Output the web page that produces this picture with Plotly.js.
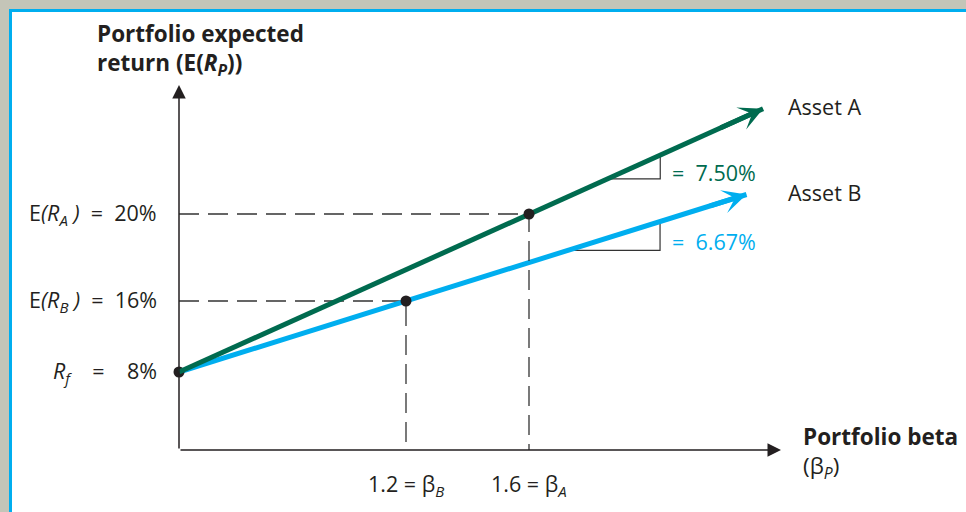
<!DOCTYPE html>
<html><head><meta charset="utf-8">
<script src="https://cdn.plot.ly/plotly-3.0.1.min.js"></script>
<style>html,body{margin:0;padding:0;background:#c4c5b8;}#chart{width:966px;height:512px;}</style>
</head><body><div id="chart"></div>
<script>
// ---- Data ----
const assets = ['Asset A', 'Asset B'];
const assetBetas = [1.6, 1.2];          // beta_A, beta_B
const assetReturns = [20, 16];          // E(R_A), E(R_B) in %
const riskFree = [8];                   // R_f in %
const arrowEndBetas = [2.67, 3.0];      // where each line's arrow ends
const arrowEndReturns = [28, 28];
const slopeLabels = ['=\u00a0\u00a07.50%', '=\u00a0\u00a06.67%'];
const slopeRunA = [1.955, 2.2];         // slope-triangle run (beta) for A
const slopeRunB = [2.057, 2.543];       // slope-triangle run (beta) for B
const yTickLabels = ['E<i>(R</i><sub><i>A</i></sub>\u00a0<i>)</i>\u00a0\u00a0=\u00a0\u00a020%',
                     'E<i>(R</i><sub><i>B</i></sub>\u00a0<i>)</i>\u00a0\u00a0=\u00a0\u00a016%',
                     '<i>R</i><sub><i>f</i></sub>\u00a0\u00a0\u00a0\u00a0=\u00a0\u00a0\u00a0\u00a08%'];
const xTickLabels = ['1.2\u00a0=\u00a0β<sub><i>B</i></sub>', '1.6\u00a0=\u00a0β<sub><i>A</i></sub>'];

// ---- Styling ----
const GREEN = '#006b4f', BLUE = '#00aeef', INK = '#231f20';
const W = 966, H = 512;
const FONT = 'Open Sans, Noto Sans, sans-serif';
const FS = 21.5, FSB = 22.5;
// schematic axes: each asset uses its own (overlaid) linear scale, as in the original figure
const rngB = {x: [-0.9462, 4.1603], y: [-7.775, 49.915]};
const rngA = {x: [-0.8183, 3.5977], y: [-2.633, 36.253]};
const basePx = 450;   // pixel row of the horizontal axis
const baseVal = r => r.y[0] + (r.y[1] - r.y[0]) * (H - basePx) / H;
const px = v => v / W, py = v => (H - v) / H;

const slopeA = (assetReturns[0] - riskFree[0]) / assetBetas[0];
const slopeB = (assetReturns[1] - riskFree[0]) / assetBetas[1];

const dashLine = {color: '#333', width: 1.3, dash: '20px,9px'};
const thin = {color: '#333', width: 1.2};

const traces = [
  // dashed guides
  {x: [0, assetBetas[0], assetBetas[0]], y: [assetReturns[0], assetReturns[0], baseVal(rngA)], xaxis: 'x2', yaxis: 'y2', mode: 'lines', line: dashLine},
  {x: [0, assetBetas[1], assetBetas[1]], y: [assetReturns[1], assetReturns[1], baseVal(rngB)], mode: 'lines', line: dashLine},
  // slope triangles
  {x: [slopeRunA[0], slopeRunA[1], slopeRunA[1]], y: [riskFree[0] + slopeA * slopeRunA[0], riskFree[0] + slopeA * slopeRunA[0], riskFree[0] + slopeA * slopeRunA[1]], xaxis: 'x2', yaxis: 'y2', mode: 'lines', line: thin},
  {x: [slopeRunB[0], slopeRunB[1], slopeRunB[1]], y: [riskFree[0] + slopeB * slopeRunB[0], riskFree[0] + slopeB * slopeRunB[0], riskFree[0] + slopeB * slopeRunB[1]], mode: 'lines', line: thin},
  // SML lines
  {x: [0, assetBetas[0], arrowEndBetas[0]], y: [riskFree[0], assetReturns[0], arrowEndReturns[0]], xaxis: 'x2', yaxis: 'y2', mode: 'lines', line: {color: GREEN, width: 5}, name: assets[0]},
  {x: [0, assetBetas[1], arrowEndBetas[1]], y: [riskFree[0], assetReturns[1], arrowEndReturns[1]], mode: 'lines', line: {color: BLUE, width: 5}, name: assets[1]},
  // points
  {x: [0, assetBetas[1]], y: [riskFree[0], assetReturns[1]], mode: 'markers', marker: {color: INK, size: 11}},
  {x: [assetBetas[0]], y: [assetReturns[0]], xaxis: 'x2', yaxis: 'y2', mode: 'markers', marker: {color: INK, size: 11}}
];

const txt = (text, x, y, opts) => Object.assign({text, x, y, xref: 'paper', yref: 'paper', showarrow: false,
  xanchor: 'left', yanchor: 'middle', align: 'left', font: {family: FONT, size: FS, color: INK}}, opts || {});

const ann = [
  // axes with arrows
  {x: px(781), y: py(basePx), xref: 'paper', yref: 'paper', ax: -602, ay: 0, axref: 'pixel', ayref: 'pixel', text: '', showarrow: true, arrowhead: 2, arrowsize: 1.8, arrowwidth: 1.5, arrowcolor: INK},
  {x: px(179), y: py(85), xref: 'paper', yref: 'paper', ax: 0, ay: 365, axref: 'pixel', ayref: 'pixel', text: '', showarrow: true, arrowhead: 2, arrowsize: 1.8, arrowwidth: 1.5, arrowcolor: INK},
  // line arrowheads
  {x: arrowEndBetas[0], y: arrowEndReturns[0], xref: 'x2', yref: 'y2', ax: arrowEndBetas[0] - 0.2, ay: arrowEndReturns[0] - 0.2 * slopeA, axref: 'x2', ayref: 'y2', text: '', showarrow: true, arrowhead: 3, arrowsize: 0.8, arrowwidth: 5, arrowcolor: GREEN},
  {x: arrowEndBetas[1], y: arrowEndReturns[1], xref: 'x', yref: 'y', ax: arrowEndBetas[1] - 0.2, ay: arrowEndReturns[1] - 0.2 * slopeB, axref: 'x', ayref: 'y', text: '', showarrow: true, arrowhead: 3, arrowsize: 0.8, arrowwidth: 5, arrowcolor: BLUE},
  // titles
  txt('<b>Portfolio expected</b><br><b>return (E(<i>R</i><sub><i>P</i></sub>))</b>', px(95), py(49), {font: {family: FONT, size: FSB, color: INK}}),
  txt('<b>Portfolio beta</b><br><span style="font-weight:normal">(β<sub><i>P</i></sub>)</span>', px(801), py(452), {font: {family: FONT, size: FSB, color: INK}}),
  // y tick labels
  txt(yTickLabels[0], px(159), assetReturns[0], {yref: 'y2', xanchor: 'right'}),
  txt(yTickLabels[1], px(159), assetReturns[1], {yref: 'y', xanchor: 'right'}),
  txt(yTickLabels[2], px(159), riskFree[0], {yref: 'y', xanchor: 'right'}),
  // x tick labels
  txt(xTickLabels[0], assetBetas[1], py(485), {xref: 'x', xanchor: 'center'}),
  txt(xTickLabels[1], assetBetas[0], py(485), {xref: 'x2', xanchor: 'center'}),
  // series labels
  txt(assets[0], px(786), py(106)),
  txt(assets[1], px(786), py(192)),
  // slope labels
  txt(slopeLabels[0], px(670), py(172), {font: {family: FONT, size: FS, color: GREEN}}),
  txt(slopeLabels[1], px(670), py(241), {font: {family: FONT, size: FS, color: BLUE}})
];

const hidden = {visible: false, fixedrange: true};
const layout = {
  width: W, height: H, margin: {l: 0, r: 0, t: 0, b: 0, pad: 0},
  paper_bgcolor: '#c4c5b8', plot_bgcolor: 'rgba(0,0,0,0)', showlegend: false,
  xaxis: Object.assign({range: rngB.x}, hidden),
  yaxis: Object.assign({range: rngB.y}, hidden),
  xaxis2: Object.assign({range: rngA.x, overlaying: 'x'}, hidden),
  yaxis2: Object.assign({range: rngA.y, overlaying: 'y'}, hidden),
  shapes: [{type: 'rect', xref: 'paper', yref: 'paper', x0: px(10.5), x1: 1.02, y0: -0.02, y1: py(10.5),
            line: {color: BLUE, width: 3}, fillcolor: '#ffffff', layer: 'below'}],
  annotations: ann
};
Plotly.newPlot('chart', traces, layout, {staticPlot: true, displayModeBar: false});
</script></body></html>
